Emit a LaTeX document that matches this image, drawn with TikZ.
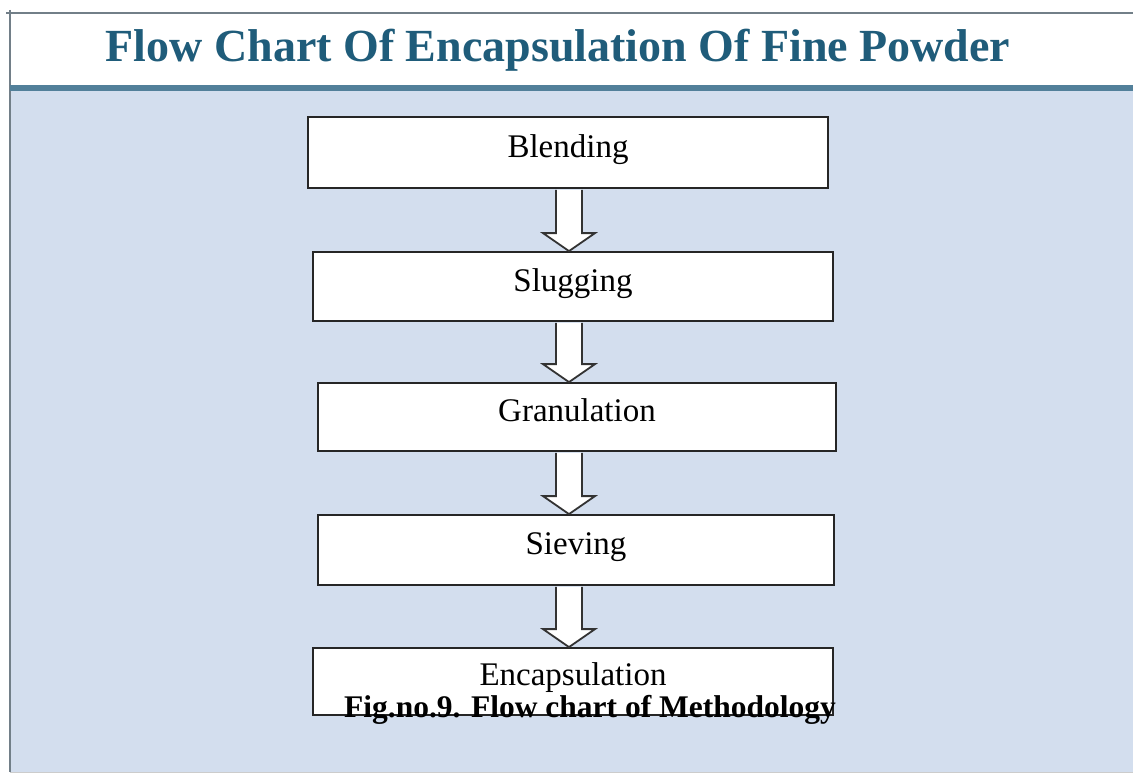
\documentclass[tikz,border=0pt]{standalone}
\usepackage{fontspec}
\setmainfont{Liberation Serif}
\usepackage{xcolor}
\usetikzlibrary{calc}
\definecolor{paneblue}{HTML}{D3DEEE}
\definecolor{barblue}{HTML}{52809A}
\definecolor{titleblue}{HTML}{1F5C7A}
\definecolor{edgegray}{HTML}{727F88}
\tikzset{
stepbox/.style={draw=black!85, line width=1.8pt, fill=white, minimum width=520pt, minimum height=70pt, inner sep=0pt, font=\fontsize{33}{36}\selectfont, text height=23pt, text depth=14pt},
arrowline/.style={draw=black!80, line width=1.8pt, fill=white, line join=miter}
}
\newcommand{\blockarr}[2]{
\path (axis |- #1.south) coordinate (t) (axis |- #2.north) coordinate (h);
\draw[arrowline] ($(t)+(-13,1)$)--($(h)+(-13,-18)$)--($(h)+(-26,-18)$)--(h)--($(h)+(26,-18)$)--($(h)+(13,-18)$)--($(t)+(13,1)$);
}
\begin{document}
\begin{tikzpicture}[x=1pt,y=-1pt]
\useasboundingbox (0,0) rectangle (1133,776);

\fill[white] (0,0) rectangle (1133,776);
\fill[paneblue] (10,91) rectangle (1133,772);
\draw[edgegray, line width=2pt] (6,13) -- (1133,13);
\draw[edgegray, line width=2pt] (10,10) -- (10,772);
\draw[barblue, line width=6pt] (10,88) -- (1133,88);
\draw[black!20, line width=1.5pt] (10,772.5) -- (1133,772.5);

\node[font=\fontsize{46}{50}\selectfont\bfseries, text=titleblue, anchor=base] (title) at (558,62) {Flow Chart Of Encapsulation Of Fine Powder};

\coordinate (axis) at (569,0);
\node[stepbox, minimum height=71pt] (blend) at (568,152.5) {Blending};
\node[stepbox, minimum height=69pt] (slug) at (573,286.5) {Slugging};
\node[stepbox, minimum width=518pt, minimum height=68pt] (gran) at (577,417) {Granulation};
\node[stepbox, minimum width=516pt] (sieve) at (576,550) {Sieving};
\node[stepbox, minimum height=67pt, text depth=16pt] (encap) at (573,681.5) {Encapsulation};

\blockarr{blend}{slug}
\blockarr{slug}{gran}
\blockarr{gran}{sieve}
\blockarr{sieve}{encap}

\node[font=\fontsize{31.5}{34}\selectfont\bfseries, anchor=base] (caption) at (590,717) {Fig.no.9. Flow chart of Methodology};

\end{tikzpicture}
\end{document}
